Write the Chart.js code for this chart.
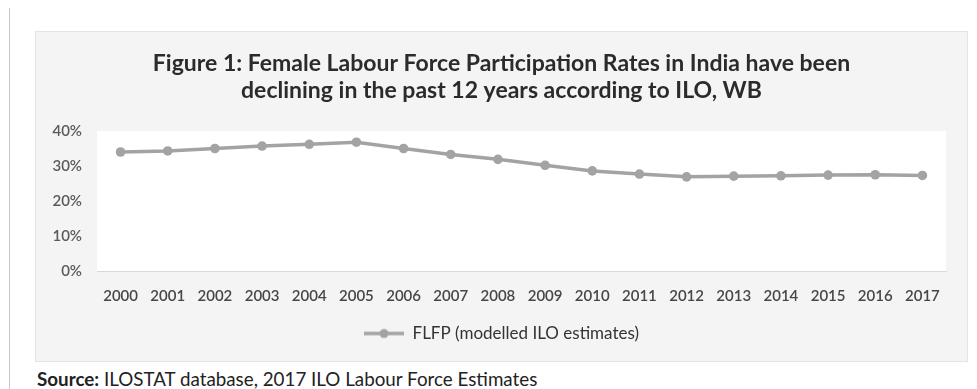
<!DOCTYPE html>
<html>
<head>
<meta charset="utf-8">
<script src="https://cdn.jsdelivr.net/npm/chart.js@4.4.1/dist/chart.umd.min.js"></script>
<style>
  html, body { margin: 0; padding: 0; background: #ffffff; }
  body { width: 977px; height: 389px; position: relative; overflow: hidden; font-family: Lato, "Open Sans", sans-serif; }
  #vline { position: absolute; left: 9px; top: 8px; width: 1px; height: 381px; background: #c9c9c9; }
  #box { position: absolute; left: 36px; top: 32px; width: 931px; height: 329px; background: #f4f4f4; box-shadow: 0 0 0 1px #e4e4e4; }
  #source { position: absolute; left: 37px; top: 368px; font-size: 18.8px; line-height: 22px; color: #222; white-space: nowrap; }
  #source b { font-weight: 700; }
</style>
</head>
<body>
<div id="vline"></div>
<div id="box"><canvas id="c" width="931" height="329"></canvas></div>
<div id="source"><b>Source:</b> ILOSTAT database, 2017 ILO Labour Force Estimates</div>
<script>
const titleLines = [
  "Figure 1: Female Labour Force Participation Rates in India have been",
  "declining in the past 12 years according to ILO, WB"
];
const years = ["2000","2001","2002","2003","2004","2005","2006","2007","2008","2009","2010","2011","2012","2013","2014","2015","2016","2017"];
const seriesName = "FLFP (modelled ILO estimates)";
const flfpValues = [34.0, 34.3, 35.0, 35.7, 36.2, 36.8, 35.0, 33.3, 31.9, 30.2, 28.6, 27.7, 26.9, 27.1, 27.2, 27.4, 27.5, 27.3];
const yTicks = [0, 10, 20, 30, 40];

const lineColor = '#a3a3a3';

// legend symbol: line with a circle marker
const sym = document.createElement('canvas');
sym.width = 40; sym.height = 12;
(function(){
  const g = sym.getContext('2d');
  g.strokeStyle = lineColor; g.lineWidth = 3.5;
  g.beginPath(); g.moveTo(0, 6); g.lineTo(40, 6); g.stroke();
  g.fillStyle = lineColor;
  g.beginPath(); g.arc(20, 6, 4.5, 0, Math.PI * 2); g.fill();
})();

const plotBg = {
  id: 'plotBg',
  beforeDraw(chart) {
    const {ctx, chartArea: a} = chart;
    ctx.save();
    ctx.fillStyle = '#ffffff';
    ctx.fillRect(a.left, a.top, a.right - a.left, a.bottom - a.top);
    ctx.restore();
  }
};

new Chart(document.getElementById('c'), {
  type: 'line',
  data: {
    labels: years,
    datasets: [{
      label: seriesName,
      data: flfpValues,
      borderColor: lineColor,
      backgroundColor: lineColor,
      borderWidth: 3.5,
      pointRadius: 4.8,
      pointBackgroundColor: lineColor,
      pointBorderColor: lineColor,
      pointBorderWidth: 0,
      pointStyle: 'circle',
      tension: 0,
      fill: false
    }]
  },
  options: {
    responsive: false,
    animation: false,
    devicePixelRatio: 1,
    layout: { padding: { left: 0, right: 0, top: 0, bottom: 9 } },
    plugins: {
      tooltip: { enabled: false },
      title: {
        display: true,
        text: titleLines,
        color: '#2b2b2b',
        font: { family: 'Lato', size: 23, weight: 'bold', lineHeight: 1.174 },
        padding: { top: 18, bottom: 27 }
      },
      legend: {
        display: true,
        position: 'bottom',
        labels: {
          usePointStyle: true,
          pointStyleWidth: 40,
          boxHeight: 12,
          color: '#333333',
          font: { family: 'Lato', size: 17 },
          padding: 10,
          generateLabels(chart) {
            return chart.data.datasets.map((ds, i) => ({
              text: ds.label,
              pointStyle: sym,
              fillStyle: lineColor,
              strokeStyle: lineColor,
              lineWidth: 0,
              hidden: false,
              datasetIndex: i,
              fontColor: '#333333'
            }));
          }
        }
      }
    },
    scales: {
      x: {
        offset: true,
        grid: { display: false, drawTicks: false },
        border: { display: true, color: '#d9d9d9', width: 1 },
        ticks: {
          color: '#464646',
          font: { family: 'Lato', size: 15, weight: '600' },
          padding: 16,
          maxRotation: 0,
          autoSkip: false
        },
        afterFit(scale) { scale.height = 44; }
      },
      y: {
        min: 0,
        max: 40,
        afterBuildTicks(scale) { scale.ticks = yTicks.map(v => ({ value: v })); },
        grid: { display: false, drawTicks: false },
        border: { display: false },
        ticks: {
          color: '#5a5a5a',
          font: { family: 'Lato', size: 15, weight: '600' },
          padding: 15,
          callback: v => v + '%'
        },
        afterFit(scale) { scale.width = 61; }
      },
      yRight: {
        position: 'right',
        min: 0,
        max: 40,
        grid: { display: false, drawTicks: false },
        border: { display: false },
        ticks: { display: false },
        afterFit(scale) { scale.width = 21; }
      }
    }
  },
  plugins: [plotBg]
});
</script>
</body>
</html>
